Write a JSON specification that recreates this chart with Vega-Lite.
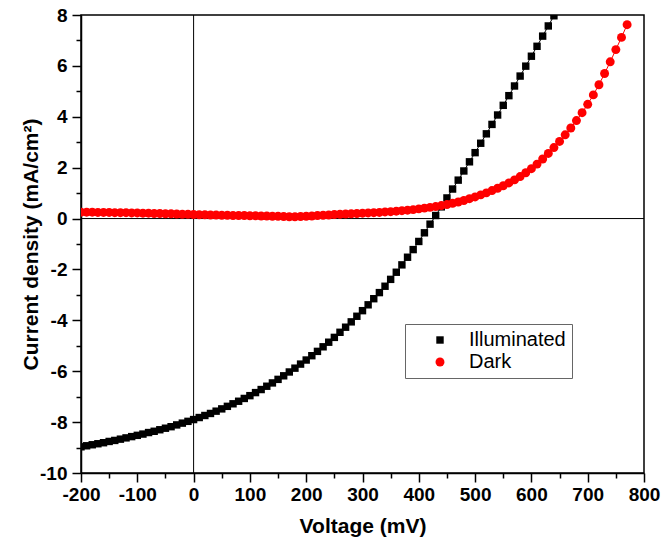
{
  "$schema": "https://vega.github.io/schema/vega-lite/v6.json",
  "width": 563,
  "height": 458,
  "autosize": {"type": "none"},
  "padding": {"left": 81, "top": 15, "right": 18, "bottom": 68},
  "background": "white",
  "config": {
    "view": {"stroke": "black", "strokeWidth": 1.5},
    "axis": {
      "domainColor": "black", "domainWidth": 1.5, "tickColor": "black", "tickWidth": 1.5,
      "labelFont": "Liberation Sans", "labelFontWeight": "bold", "labelFontSize": 19, "labelColor": "black",
      "titleFont": "Liberation Sans", "titleFontWeight": "bold", "titleFontSize": 21, "titleColor": "black",
      "grid": false, "labelFlush": false, "labelOverlap": false
    },
    "legend": {
      "orient": "none", "legendX": 324, "legendY": 309,
      "strokeColor": "#666", "fillColor": "white", "padding": 6,
      "labelFont": "Liberation Sans", "labelFontSize": 20, "labelColor": "black",
      "symbolOffset": 19, "labelOffset": 19, "rowPadding": 2,
      "symbolStrokeWidth": 0
    }
  },
  "datasets": {
    "jv": [
      {"V": -200, "J": -8.97, "s": "Illuminated"}, {"V": -190, "J": -8.93, "s": "Illuminated"}, {"V": -180, "J": -8.89, "s": "Illuminated"}, {"V": -170, "J": -8.85, "s": "Illuminated"}, {"V": -160, "J": -8.81, "s": "Illuminated"},
      {"V": -150, "J": -8.76, "s": "Illuminated"}, {"V": -140, "J": -8.72, "s": "Illuminated"}, {"V": -130, "J": -8.67, "s": "Illuminated"}, {"V": -120, "J": -8.62, "s": "Illuminated"}, {"V": -110, "J": -8.57, "s": "Illuminated"},
      {"V": -100, "J": -8.52, "s": "Illuminated"}, {"V": -90, "J": -8.47, "s": "Illuminated"}, {"V": -80, "J": -8.41, "s": "Illuminated"}, {"V": -70, "J": -8.36, "s": "Illuminated"}, {"V": -60, "J": -8.30, "s": "Illuminated"},
      {"V": -50, "J": -8.24, "s": "Illuminated"}, {"V": -40, "J": -8.18, "s": "Illuminated"}, {"V": -30, "J": -8.11, "s": "Illuminated"}, {"V": -20, "J": -8.04, "s": "Illuminated"}, {"V": -10, "J": -7.97, "s": "Illuminated"},
      {"V": 0, "J": -7.90, "s": "Illuminated"}, {"V": 10, "J": -7.82, "s": "Illuminated"}, {"V": 20, "J": -7.74, "s": "Illuminated"}, {"V": 30, "J": -7.66, "s": "Illuminated"}, {"V": 40, "J": -7.57, "s": "Illuminated"},
      {"V": 50, "J": -7.48, "s": "Illuminated"}, {"V": 60, "J": -7.38, "s": "Illuminated"}, {"V": 70, "J": -7.28, "s": "Illuminated"}, {"V": 80, "J": -7.18, "s": "Illuminated"}, {"V": 90, "J": -7.07, "s": "Illuminated"},
      {"V": 100, "J": -6.96, "s": "Illuminated"}, {"V": 110, "J": -6.84, "s": "Illuminated"}, {"V": 120, "J": -6.72, "s": "Illuminated"}, {"V": 130, "J": -6.59, "s": "Illuminated"}, {"V": 140, "J": -6.46, "s": "Illuminated"},
      {"V": 150, "J": -6.32, "s": "Illuminated"}, {"V": 160, "J": -6.18, "s": "Illuminated"}, {"V": 170, "J": -6.03, "s": "Illuminated"}, {"V": 180, "J": -5.88, "s": "Illuminated"}, {"V": 190, "J": -5.72, "s": "Illuminated"},
      {"V": 200, "J": -5.56, "s": "Illuminated"}, {"V": 210, "J": -5.39, "s": "Illuminated"}, {"V": 220, "J": -5.22, "s": "Illuminated"}, {"V": 230, "J": -5.04, "s": "Illuminated"}, {"V": 240, "J": -4.86, "s": "Illuminated"},
      {"V": 250, "J": -4.67, "s": "Illuminated"}, {"V": 260, "J": -4.47, "s": "Illuminated"}, {"V": 270, "J": -4.27, "s": "Illuminated"}, {"V": 280, "J": -4.06, "s": "Illuminated"}, {"V": 290, "J": -3.84, "s": "Illuminated"},
      {"V": 300, "J": -3.62, "s": "Illuminated"}, {"V": 310, "J": -3.39, "s": "Illuminated"}, {"V": 320, "J": -3.15, "s": "Illuminated"}, {"V": 330, "J": -2.91, "s": "Illuminated"}, {"V": 340, "J": -2.66, "s": "Illuminated"},
      {"V": 350, "J": -2.39, "s": "Illuminated"}, {"V": 360, "J": -2.11, "s": "Illuminated"}, {"V": 370, "J": -1.82, "s": "Illuminated"}, {"V": 380, "J": -1.52, "s": "Illuminated"}, {"V": 390, "J": -1.22, "s": "Illuminated"},
      {"V": 400, "J": -0.90, "s": "Illuminated"}, {"V": 410, "J": -0.56, "s": "Illuminated"}, {"V": 420, "J": -0.22, "s": "Illuminated"}, {"V": 430, "J": 0.12, "s": "Illuminated"}, {"V": 440, "J": 0.46, "s": "Illuminated"},
      {"V": 450, "J": 0.81, "s": "Illuminated"}, {"V": 460, "J": 1.16, "s": "Illuminated"}, {"V": 470, "J": 1.51, "s": "Illuminated"}, {"V": 480, "J": 1.87, "s": "Illuminated"}, {"V": 490, "J": 2.23, "s": "Illuminated"},
      {"V": 500, "J": 2.59, "s": "Illuminated"}, {"V": 510, "J": 2.96, "s": "Illuminated"}, {"V": 520, "J": 3.33, "s": "Illuminated"}, {"V": 530, "J": 3.70, "s": "Illuminated"}, {"V": 540, "J": 4.07, "s": "Illuminated"},
      {"V": 550, "J": 4.45, "s": "Illuminated"}, {"V": 560, "J": 4.83, "s": "Illuminated"}, {"V": 570, "J": 5.21, "s": "Illuminated"}, {"V": 580, "J": 5.60, "s": "Illuminated"}, {"V": 590, "J": 5.99, "s": "Illuminated"},
      {"V": 600, "J": 6.38, "s": "Illuminated"}, {"V": 610, "J": 6.77, "s": "Illuminated"}, {"V": 620, "J": 7.17, "s": "Illuminated"}, {"V": 630, "J": 7.57, "s": "Illuminated"}, {"V": 640, "J": 7.97, "s": "Illuminated"},
      {"V": -200, "J": 0.25, "s": "Dark"}, {"V": -190, "J": 0.25, "s": "Dark"}, {"V": -180, "J": 0.25, "s": "Dark"}, {"V": -170, "J": 0.24, "s": "Dark"}, {"V": -160, "J": 0.24, "s": "Dark"},
      {"V": -150, "J": 0.24, "s": "Dark"}, {"V": -140, "J": 0.23, "s": "Dark"}, {"V": -130, "J": 0.23, "s": "Dark"}, {"V": -120, "J": 0.23, "s": "Dark"}, {"V": -110, "J": 0.22, "s": "Dark"},
      {"V": -100, "J": 0.22, "s": "Dark"}, {"V": -90, "J": 0.21, "s": "Dark"}, {"V": -80, "J": 0.21, "s": "Dark"}, {"V": -70, "J": 0.20, "s": "Dark"}, {"V": -60, "J": 0.20, "s": "Dark"},
      {"V": -50, "J": 0.19, "s": "Dark"}, {"V": -40, "J": 0.19, "s": "Dark"}, {"V": -30, "J": 0.18, "s": "Dark"}, {"V": -20, "J": 0.17, "s": "Dark"}, {"V": -10, "J": 0.17, "s": "Dark"},
      {"V": 0, "J": 0.16, "s": "Dark"}, {"V": 10, "J": 0.15, "s": "Dark"}, {"V": 20, "J": 0.15, "s": "Dark"}, {"V": 30, "J": 0.14, "s": "Dark"}, {"V": 40, "J": 0.14, "s": "Dark"},
      {"V": 50, "J": 0.13, "s": "Dark"}, {"V": 60, "J": 0.13, "s": "Dark"}, {"V": 70, "J": 0.12, "s": "Dark"}, {"V": 80, "J": 0.12, "s": "Dark"}, {"V": 90, "J": 0.12, "s": "Dark"},
      {"V": 100, "J": 0.11, "s": "Dark"}, {"V": 110, "J": 0.11, "s": "Dark"}, {"V": 120, "J": 0.10, "s": "Dark"}, {"V": 130, "J": 0.10, "s": "Dark"}, {"V": 140, "J": 0.09, "s": "Dark"},
      {"V": 150, "J": 0.09, "s": "Dark"}, {"V": 160, "J": 0.08, "s": "Dark"}, {"V": 170, "J": 0.07, "s": "Dark"}, {"V": 180, "J": 0.07, "s": "Dark"}, {"V": 190, "J": 0.08, "s": "Dark"},
      {"V": 200, "J": 0.09, "s": "Dark"}, {"V": 210, "J": 0.10, "s": "Dark"}, {"V": 220, "J": 0.12, "s": "Dark"}, {"V": 230, "J": 0.13, "s": "Dark"}, {"V": 240, "J": 0.14, "s": "Dark"},
      {"V": 250, "J": 0.16, "s": "Dark"}, {"V": 260, "J": 0.17, "s": "Dark"}, {"V": 270, "J": 0.18, "s": "Dark"}, {"V": 280, "J": 0.19, "s": "Dark"}, {"V": 290, "J": 0.20, "s": "Dark"},
      {"V": 300, "J": 0.21, "s": "Dark"}, {"V": 310, "J": 0.22, "s": "Dark"}, {"V": 320, "J": 0.23, "s": "Dark"}, {"V": 330, "J": 0.24, "s": "Dark"}, {"V": 340, "J": 0.26, "s": "Dark"},
      {"V": 350, "J": 0.27, "s": "Dark"}, {"V": 360, "J": 0.29, "s": "Dark"}, {"V": 370, "J": 0.31, "s": "Dark"}, {"V": 380, "J": 0.33, "s": "Dark"}, {"V": 390, "J": 0.35, "s": "Dark"},
      {"V": 400, "J": 0.38, "s": "Dark"}, {"V": 410, "J": 0.41, "s": "Dark"}, {"V": 420, "J": 0.44, "s": "Dark"}, {"V": 430, "J": 0.47, "s": "Dark"}, {"V": 440, "J": 0.51, "s": "Dark"},
      {"V": 450, "J": 0.55, "s": "Dark"}, {"V": 460, "J": 0.60, "s": "Dark"}, {"V": 470, "J": 0.65, "s": "Dark"}, {"V": 480, "J": 0.71, "s": "Dark"}, {"V": 490, "J": 0.78, "s": "Dark"},
      {"V": 500, "J": 0.85, "s": "Dark"}, {"V": 510, "J": 0.93, "s": "Dark"}, {"V": 520, "J": 1.01, "s": "Dark"}, {"V": 530, "J": 1.10, "s": "Dark"}, {"V": 540, "J": 1.19, "s": "Dark"},
      {"V": 550, "J": 1.29, "s": "Dark"}, {"V": 560, "J": 1.40, "s": "Dark"}, {"V": 570, "J": 1.52, "s": "Dark"}, {"V": 580, "J": 1.65, "s": "Dark"}, {"V": 590, "J": 1.80, "s": "Dark"},
      {"V": 600, "J": 1.96, "s": "Dark"}, {"V": 610, "J": 2.14, "s": "Dark"}, {"V": 620, "J": 2.34, "s": "Dark"}, {"V": 630, "J": 2.56, "s": "Dark"}, {"V": 640, "J": 2.79, "s": "Dark"},
      {"V": 650, "J": 3.03, "s": "Dark"}, {"V": 660, "J": 3.29, "s": "Dark"}, {"V": 670, "J": 3.56, "s": "Dark"}, {"V": 680, "J": 3.85, "s": "Dark"}, {"V": 690, "J": 4.16, "s": "Dark"},
      {"V": 700, "J": 4.49, "s": "Dark"}, {"V": 710, "J": 4.86, "s": "Dark"}, {"V": 720, "J": 5.26, "s": "Dark"}, {"V": 730, "J": 5.70, "s": "Dark"}, {"V": 740, "J": 6.16, "s": "Dark"},
      {"V": 750, "J": 6.64, "s": "Dark"}, {"V": 760, "J": 7.12, "s": "Dark"}, {"V": 770, "J": 7.62, "s": "Dark"}
    ],
    "zero": [{"v": 0}]
  },
  "layer": [
    {
      "data": {"name": "zero"},
      "mark": {"type": "rule", "color": "black", "strokeWidth": 1},
      "encoding": {
        "x": {"field": "v", "type": "quantitative", "scale": {"domain": [-200, 800], "nice": false, "zero": false},
          "axis": {"orient": "bottom", "values": [-150, -50, 50, 150, 250, 350, 450, 550, 650, 750], "tickSize": 5, "labels": false, "domain": false, "title": null}}
      }
    },
    {
      "data": {"name": "zero"},
      "mark": {"type": "rule", "color": "black", "strokeWidth": 1},
      "encoding": {
        "y": {"field": "v", "type": "quantitative", "scale": {"domain": [-10, 8], "nice": false, "zero": false},
          "axis": {"orient": "left", "values": [-9, -7, -5, -3, -1, 1, 3, 5, 7], "tickSize": 5, "labels": false, "domain": false, "title": null}}
      }
    },
    {
      "data": {"name": "jv"},
      "mark": {"type": "line", "strokeWidth": 1, "clip": true},
      "encoding": {
        "x": {"field": "V", "type": "quantitative", "scale": {"domain": [-200, 800], "nice": false, "zero": false},
          "axis": {"orient": "bottom", "values": [-200, -100, 0, 100, 200, 300, 400, 500, 600, 700, 800], "tickSize": 9, "labelPadding": 3, "title": "Voltage (mV)", "titlePadding": 11,
            "labelExpr": "datum.value < 0 ? '-' + abs(datum.value) : '' + datum.value"}},
        "y": {"field": "J", "type": "quantitative", "scale": {"domain": [-10, 8], "nice": false, "zero": false},
          "axis": {"orient": "left", "values": [-10, -8, -6, -4, -2, 0, 2, 4, 6, 8], "tickSize": 9, "labelPadding": 5, "title": "Current density (mA/cm²)", "titleX": -40,
            "labelExpr": "datum.value < 0 ? '-' + abs(datum.value) : '' + datum.value"}},
        "color": {"field": "s", "type": "nominal", "scale": {"domain": ["Illuminated", "Dark"], "range": ["#000000", "#ff0000"]}, "legend": {"title": null}},
        "detail": {"field": "s"}
      }
    },
    {
      "data": {"name": "jv"},
      "mark": {"type": "point", "filled": true, "opacity": 1, "clip": true},
      "encoding": {
        "x": {"field": "V", "type": "quantitative", "scale": {"domain": [-200, 800], "nice": false, "zero": false}, "axis": null},
        "y": {"field": "J", "type": "quantitative", "scale": {"domain": [-10, 8], "nice": false, "zero": false}, "axis": null},
        "color": {"field": "s", "type": "nominal", "scale": {"domain": ["Illuminated", "Dark"], "range": ["#000000", "#ff0000"]}, "legend": {"title": null}},
        "shape": {"field": "s", "type": "nominal", "scale": {"domain": ["Illuminated", "Dark"], "range": ["square", "circle"]}, "legend": {"title": null}},
        "size": {"field": "s", "type": "nominal", "scale": {"domain": ["Illuminated", "Dark"], "range": [55, 80]}, "legend": {"title": null}}
      }
    }
  ],
  "resolve": {"axis": {"x": "independent", "y": "independent"}}
}
